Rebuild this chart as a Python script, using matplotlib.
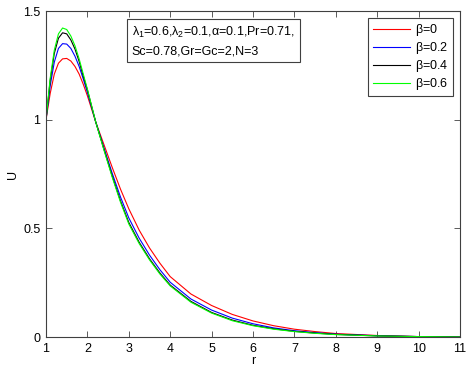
# Velocity profiles U(r) for several beta values
import matplotlib.pyplot as plt
import numpy as np

plt.rcParams['font.family'] = ['Liberation Sans', 'DejaVu Sans']
plt.rcParams['mathtext.fontset'] = 'custom'
plt.rcParams['mathtext.rm'] = 'Liberation Sans'
plt.rcParams['mathtext.it'] = 'Liberation Sans'

# Data
r = [1.0, 1.1, 1.2, 1.3, 1.4, 1.5, 1.6, 1.7, 1.8, 1.9, 2.0, 2.2, 2.4, 2.6, 2.8,
     3.0, 3.25, 3.5, 3.75, 4.0, 4.5, 5.0, 5.5, 6.0, 6.5, 7.0, 7.5, 8.0, 9.0,
     10.0, 11.0]
u_b0 = [1.00, 1.12, 1.21, 1.26, 1.28, 1.282, 1.27, 1.245, 1.21, 1.163, 1.11,
        0.99, 0.885, 0.78, 0.68, 0.59, 0.492, 0.41, 0.34, 0.278, 0.198, 0.145,
        0.104, 0.074, 0.052, 0.036, 0.025, 0.016, 0.007, 0.002, 0.0]
u_b02 = [1.00, 1.155, 1.265, 1.328, 1.35, 1.348, 1.328, 1.292, 1.245, 1.187,
         1.125, 0.99, 0.87, 0.753, 0.644, 0.548, 0.455, 0.377, 0.31, 0.252,
         0.175, 0.124, 0.087, 0.061, 0.042, 0.029, 0.02, 0.013, 0.006, 0.002, 0.0]
u_b04 = [1.00, 1.18, 1.305, 1.375, 1.40, 1.395, 1.367, 1.325, 1.268, 1.20,
         1.137, 0.99, 0.863, 0.74, 0.626, 0.527, 0.436, 0.36, 0.295, 0.239,
         0.164, 0.113, 0.078, 0.054, 0.038, 0.026, 0.018, 0.012, 0.005, 0.002, 0.0]
u_b06 = [1.00, 1.19, 1.32, 1.395, 1.422, 1.415, 1.385, 1.34, 1.28, 1.21, 1.14,
         0.99, 0.86, 0.735, 0.62, 0.52, 0.43, 0.355, 0.29, 0.235, 0.16, 0.11,
         0.075, 0.052, 0.036, 0.025, 0.017, 0.011, 0.005, 0.002, 0.0]

series = [u_b0, u_b02, u_b04, u_b06]
labels = [r'$\beta$=0', r'$\beta$=0.2', r'$\beta$=0.4', r'$\beta$=0.6']
colors = ['#ff0000', '#0000ff', '#000000', '#00ff00']

fig = plt.figure(figsize=(4.72, 3.71), dpi=100)
ax = fig.add_axes([0.0975, 0.0916, 0.877, 0.8786])

for u, lab, c in zip(series, labels, colors):
    ax.plot(r, u, color=c, lw=0.8, label=lab)

ax.set_xlim(1, 11)
ax.set_ylim(0, 1.5)
ax.set_xticks(np.arange(1, 12, 1))
ax.set_yticks([0, 0.5, 1, 1.5])
ax.set_yticklabels(['0', '0.5', '1', '1.5'])
ax.tick_params(direction='in', top=True, right=True, labelsize=9, length=4,
               width=0.6, color='#404040', pad=4)
for s in ax.spines.values():
    s.set_color('#404040')
    s.set_linewidth(0.8)

ax.set_xlabel('r', fontsize=9, labelpad=0)
ax.set_ylabel('U', fontsize=9, labelpad=3)

leg = ax.legend(loc='upper right', fontsize=9, fancybox=False, framealpha=1,
                edgecolor='#404040', handlelength=3.0, borderaxespad=0.55,
                labelspacing=0.15, handletextpad=0.4, borderpad=0.35)
leg.get_frame().set_linewidth(0.8)

ax.text(0.207, 0.958,
        r'$\lambda_1$=0.6,$\lambda_2$=0.1,$\alpha$=0.1,Pr=0.71,' + '\n' +
        'Sc=0.78,Gr=Gc=2,N=3',
        transform=ax.transAxes, fontsize=9, va='top', ha='left', linespacing=1.6,
        bbox=dict(boxstyle='square,pad=0.4', fc='white', ec='#404040', lw=0.8))

fig.savefig('out.png', dpi=100)
